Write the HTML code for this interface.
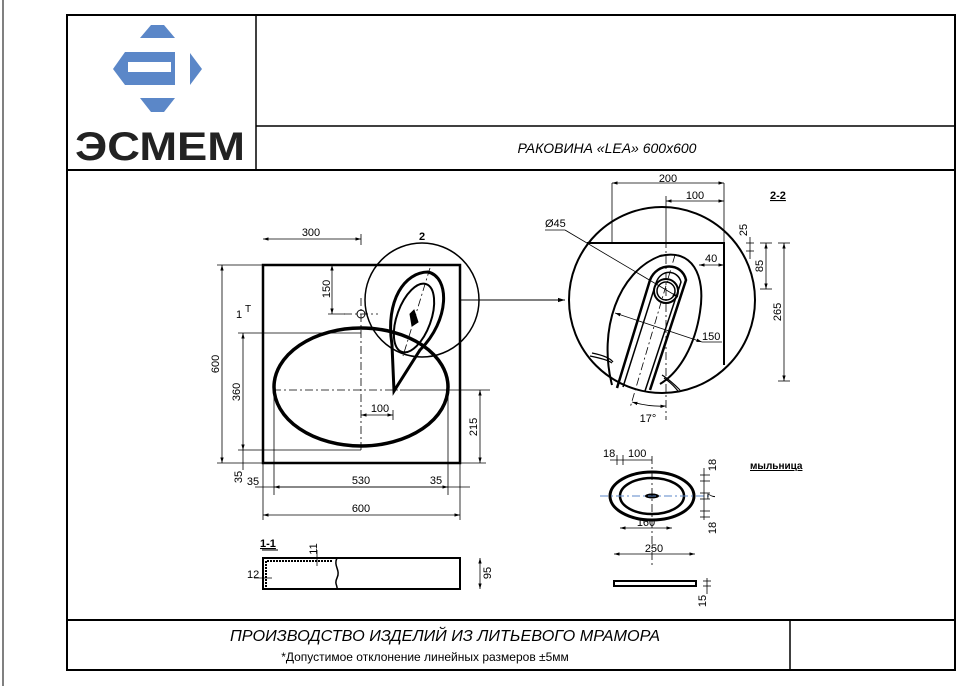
<!DOCTYPE html>
<html><head><meta charset="utf-8"><style>
body{margin:0;background:#fff;}
svg{display:block;font-family:"Liberation Sans",sans-serif;}
</style></head><body>
<svg width="970" height="686" viewBox="0 0 970 686" xmlns="http://www.w3.org/2000/svg">
<defs>
<marker id="a" viewBox="0 0 10 10" refX="10" refY="5" markerWidth="7" markerHeight="7" orient="auto-start-reverse"><path d="M0,2 L10,5 L0,8z" fill="#000"/></marker>
</defs>
<line x1="3" y1="0" x2="3" y2="686" stroke="#000" stroke-width="1"/>
<!-- frame -->
<rect x="67" y="15" width="888" height="655" fill="none" stroke="#000" stroke-width="2"/>
<line x1="256" y1="15" x2="256" y2="170" stroke="#000" stroke-width="1.5"/>
<line x1="256" y1="126" x2="955" y2="126" stroke="#000" stroke-width="1.5"/>
<line x1="67" y1="170" x2="955" y2="170" stroke="#000" stroke-width="2"/>
<line x1="67" y1="620" x2="955" y2="620" stroke="#000" stroke-width="2"/>
<line x1="790" y1="620" x2="790" y2="670" stroke="#000" stroke-width="1.5"/>
<text x="607" y="153" font-size="14" font-style="italic" text-anchor="middle">РАКОВИНА «LEA» 600x600</text>
<text x="445" y="641" font-size="15.5" font-style="italic" text-anchor="middle" textLength="430" lengthAdjust="spacingAndGlyphs">ПРОИЗВОДСТВО ИЗДЕЛИЙ ИЗ ЛИТЬЕВОГО МРАМОРА</text>
<text x="425" y="661" font-size="12" text-anchor="middle">*Допустимое отклонение линейных размеров  ±5мм</text>
<!-- logo -->
<g fill="#5b87c8">
<polygon points="140,38 175,38 164,25 151,25"/>
<polygon points="140,98 175,98 164,112 151,112"/>
<polygon points="190,53 202,69 190,85"/>
<path d="M125,52 L175,52 L175,85 L125,85 L113,69 Z"/>
</g>
<rect x="128" y="62" width="43" height="10" fill="#fff"/>
<text x="160" y="160" font-size="40" font-weight="bold" text-anchor="middle" textLength="170" lengthAdjust="spacingAndGlyphs" fill="#222">ЭСМЕМ</text>
<g fill="none" stroke="#000">
<!-- main view -->
<rect x="263" y="265" width="197" height="198" stroke-width="2.5"/>
<ellipse cx="361" cy="387" rx="87" ry="59" stroke-width="3.5"/>
<circle cx="422" cy="300" r="57" stroke-width="1.5"/>
<path d="M394,391 L392,345 C385,300 405,272 428,272 C450,277 450,320 420,350 Z" stroke-width="3"/>
<ellipse cx="414" cy="318" rx="17" ry="36" transform="rotate(20 414 318)" stroke-width="2"/>
<path d="M414,310 L418,322 L412,326 L410,314Z" fill="#000" stroke-width="1"/>
<line x1="430" y1="268" x2="403" y2="356" stroke-width="0.8" stroke-dasharray="8 3 2 3"/>
<circle cx="361" cy="314" r="4" stroke-width="1"/>
<line x1="344" y1="314" x2="378" y2="314" stroke-width="0.8" stroke-dasharray="8 3 2 3"/>
<line x1="361" y1="298" x2="361" y2="450" stroke-width="0.8" stroke-dasharray="8 3 2 3"/>
<line x1="273" y1="390" x2="400" y2="390" stroke-width="0.8" stroke-dasharray="8 3 2 3"/>
<line x1="400" y1="390" x2="490" y2="390" stroke-width="0.8"/>
<line x1="460" y1="300" x2="565" y2="300" stroke-width="1" marker-end="url(#a)"/>
<g stroke-width="0.8">
<line x1="263" y1="239" x2="361" y2="239" marker-start="url(#a)" marker-end="url(#a)"/>
<line x1="361" y1="234" x2="361" y2="245"/>
<line x1="332" y1="265" x2="332" y2="314" marker-start="url(#a)" marker-end="url(#a)"/>
<line x1="328" y1="314" x2="345" y2="314"/>
<line x1="222" y1="265" x2="222" y2="463" marker-start="url(#a)" marker-end="url(#a)"/>
<line x1="217" y1="265" x2="263" y2="265"/>
<line x1="217" y1="463" x2="263" y2="463"/>
<line x1="243" y1="333" x2="243" y2="450" marker-start="url(#a)" marker-end="url(#a)"/>
<line x1="238" y1="333" x2="361" y2="333"/>
<line x1="238" y1="450" x2="361" y2="450"/>
<line x1="243" y1="450" x2="243" y2="470"/>
<line x1="480" y1="390" x2="480" y2="463" marker-start="url(#a)" marker-end="url(#a)"/>
<line x1="460" y1="463" x2="486" y2="463"/>
<line x1="361" y1="415" x2="393" y2="415" marker-start="url(#a)" marker-end="url(#a)"/>
<line x1="393" y1="410" x2="393" y2="420"/>
<line x1="274" y1="390" x2="274" y2="495"/>
<line x1="448" y1="390" x2="448" y2="495"/>
<line x1="263" y1="463" x2="263" y2="520"/>
<line x1="460" y1="463" x2="460" y2="520"/>
<line x1="255" y1="487" x2="470" y2="487"/>
<line x1="274" y1="487" x2="448" y2="487" marker-start="url(#a)" marker-end="url(#a)"/>
<line x1="263" y1="515" x2="460" y2="515" marker-start="url(#a)" marker-end="url(#a)"/>
</g>
<!-- section 1-1 -->
<rect x="263" y="558" width="197" height="31" stroke-width="2"/>
<line x1="267" y1="561" x2="333" y2="561" stroke-width="2" stroke-dasharray="2 1"/>
<line x1="266" y1="561" x2="266" y2="589" stroke-width="2" stroke-dasharray="2 1"/>
<path d="M337,558 C333,566 341,570 337,578 C334,584 338,586 337,589" stroke-width="1.5"/>
<line x1="317" y1="550" x2="317" y2="566" stroke-width="0.8"/>
<line x1="254" y1="578" x2="272" y2="578" stroke-width="0.8"/>
<line x1="480" y1="558" x2="480" y2="589" stroke-width="0.8" marker-start="url(#a)" marker-end="url(#a)"/>
<line x1="262" y1="550" x2="278" y2="550" stroke-width="1"/>
<!-- detail 2-2 -->
<circle cx="662" cy="300" r="93" stroke-width="2"/>
<path d="M587,243 L724,243 L724,365" stroke-width="2"/>
<path d="M612,385 C598,330 618,272 660,256 C692,248 706,275 700,312 C695,345 680,372 660,384" stroke-width="2"/>
<path d="M617,388 L650,280 C657,262 682,262 686,280 L650,390" stroke-width="2.5"/>
<path d="M623,387 L656,283 C661,268 678,270 681,282 L645,391" stroke-width="1.5"/>
<circle cx="666" cy="291" r="12" stroke-width="2"/>
<circle cx="666" cy="291" r="9" stroke-width="1.5"/>
<path d="M590,356 C600,358 608,360 612,363 M592,353 C602,355 610,358 613,362" stroke-width="1.2"/>
<path d="M662,375 C670,380 675,385 680,390 M664,378 C670,382 674,386 678,391" stroke-width="1.2"/>
<g stroke-width="0.8">
<line x1="666" y1="240" x2="666" y2="420" stroke-dasharray="8 3 2 3"/>
<line x1="675" y1="255" x2="630" y2="408" stroke-dasharray="8 3 2 3"/>
<line x1="612" y1="183" x2="612" y2="243"/>
<line x1="724" y1="183" x2="724" y2="243"/>
<line x1="612" y1="183" x2="724" y2="183" marker-start="url(#a)" marker-end="url(#a)"/>
<line x1="666" y1="201" x2="724" y2="201" marker-start="url(#a)" marker-end="url(#a)"/>
<line x1="666" y1="196" x2="666" y2="240"/>
<line x1="699" y1="265" x2="724" y2="265" marker-start="url(#a)" marker-end="url(#a)"/>
<line x1="545" y1="230" x2="565" y2="230"/>
<line x1="565" y1="230" x2="678" y2="297" marker-end="url(#a)"/>
<line x1="615" y1="313" x2="702" y2="342" marker-start="url(#a)" marker-end="url(#a)"/>
<line x1="702" y1="342" x2="722" y2="342"/>
<line x1="750" y1="237" x2="750" y2="259"/>
<line x1="746" y1="243" x2="754" y2="243"/>
<line x1="746" y1="251" x2="754" y2="251"/>
<line x1="766" y1="243" x2="766" y2="289" marker-start="url(#a)" marker-end="url(#a)"/>
<line x1="760" y1="243" x2="772" y2="243"/><line x1="760" y1="289" x2="772" y2="289"/>
<line x1="784" y1="243" x2="784" y2="381" marker-start="url(#a)" marker-end="url(#a)"/>
<line x1="778" y1="243" x2="790" y2="243"/><line x1="778" y1="381" x2="790" y2="381"/>
<path d="M632,402 Q650,407 666,406" marker-start="url(#a)" marker-end="url(#a)"/>
</g>
<!-- soap dish -->
<ellipse cx="652" cy="496" rx="42" ry="24" stroke-width="3"/>
<ellipse cx="652" cy="496" rx="32" ry="18" stroke-width="2.5"/>
<ellipse cx="652" cy="496" rx="7" ry="2.5" fill="#000" stroke="none"/>
<line x1="600" y1="496" x2="712" y2="496" stroke="#5b87c8" stroke-width="1" stroke-dasharray="8 3 2 3"/>
<line x1="652" y1="456" x2="652" y2="565" stroke-width="0.8" stroke-dasharray="8 3 2 3"/>
<g stroke-width="0.8">
<line x1="610" y1="460" x2="652" y2="460"/>
<line x1="617" y1="455" x2="617" y2="465"/><line x1="623" y1="455" x2="623" y2="465"/>
<line x1="620" y1="528" x2="672" y2="528" marker-start="url(#a)" marker-end="url(#a)"/>
<line x1="614" y1="554" x2="695" y2="554" marker-start="url(#a)" marker-end="url(#a)"/>
<line x1="704" y1="468" x2="704" y2="520"/>
<line x1="700" y1="475" x2="710" y2="475"/><line x1="700" y1="481" x2="710" y2="481"/>
<line x1="700" y1="493" x2="710" y2="493"/><line x1="700" y1="499" x2="710" y2="499"/>
<line x1="700" y1="511" x2="710" y2="511"/><line x1="700" y1="517" x2="710" y2="517"/>
<line x1="707" y1="578" x2="707" y2="594"/>
<line x1="703" y1="581" x2="711" y2="581"/><line x1="703" y1="586" x2="711" y2="586"/>
</g>
<rect x="614" y="581" width="82" height="5" stroke-width="2"/>
</g>
<g font-size="11" fill="#000">
<text x="311" y="236" text-anchor="middle">300</text>
<text x="422" y="240" font-weight="bold" text-anchor="middle">2</text>
<text transform="translate(330,289) rotate(-90)" text-anchor="middle">150</text>
<text transform="translate(219,364) rotate(-90)" text-anchor="middle">600</text>
<text transform="translate(240,392) rotate(-90)" text-anchor="middle">360</text>
<text transform="translate(477,427) rotate(-90)" text-anchor="middle">215</text>
<text x="380" y="412" text-anchor="middle">100</text>
<text x="236" y="318">1</text>
<text x="245" y="312" font-size="10">T</text>
<text transform="translate(242,477) rotate(-90)" text-anchor="middle">35</text>
<text x="253" y="485" text-anchor="middle">35</text>
<text x="361" y="484" text-anchor="middle">530</text>
<text x="436" y="484" text-anchor="middle">35</text>
<text x="361" y="512" text-anchor="middle">600</text>
<text x="260" y="547" font-weight="bold" text-decoration="underline">1-1</text>
<text transform="translate(317,549) rotate(-90)" text-anchor="middle">11</text>
<text x="247" y="578">12</text>
<text transform="translate(491,573) rotate(-90)" text-anchor="middle">95</text>
<text x="668" y="182" text-anchor="middle">200</text>
<text x="695" y="199" text-anchor="middle">100</text>
<text x="770" y="199" font-weight="bold" text-decoration="underline">2-2</text>
<text x="545" y="227">Ø45</text>
<text x="705" y="262">40</text>
<text x="702" y="340">150</text>
<text transform="translate(747,230) rotate(-90)" text-anchor="middle">25</text>
<text transform="translate(763,266) rotate(-90)" text-anchor="middle">85</text>
<text transform="translate(781,312) rotate(-90)" text-anchor="middle">265</text>
<text x="648" y="422" text-anchor="middle">17°</text>
<text x="603" y="457">18</text>
<text x="628" y="457">100</text>
<text x="750" y="469" font-size="10" font-weight="bold" text-decoration="underline">мыльница</text>
<text transform="translate(716,465) rotate(-90)" text-anchor="middle">18</text>
<text transform="translate(715,496) rotate(-90)" text-anchor="middle">7</text>
<text transform="translate(716,528) rotate(-90)" text-anchor="middle">18</text>
<text x="646" y="526" text-anchor="middle">160</text>
<text x="654" y="552" text-anchor="middle">250</text>
<text transform="translate(706,601) rotate(-90)" text-anchor="middle">15</text>
</g>
</svg>
</body></html>
